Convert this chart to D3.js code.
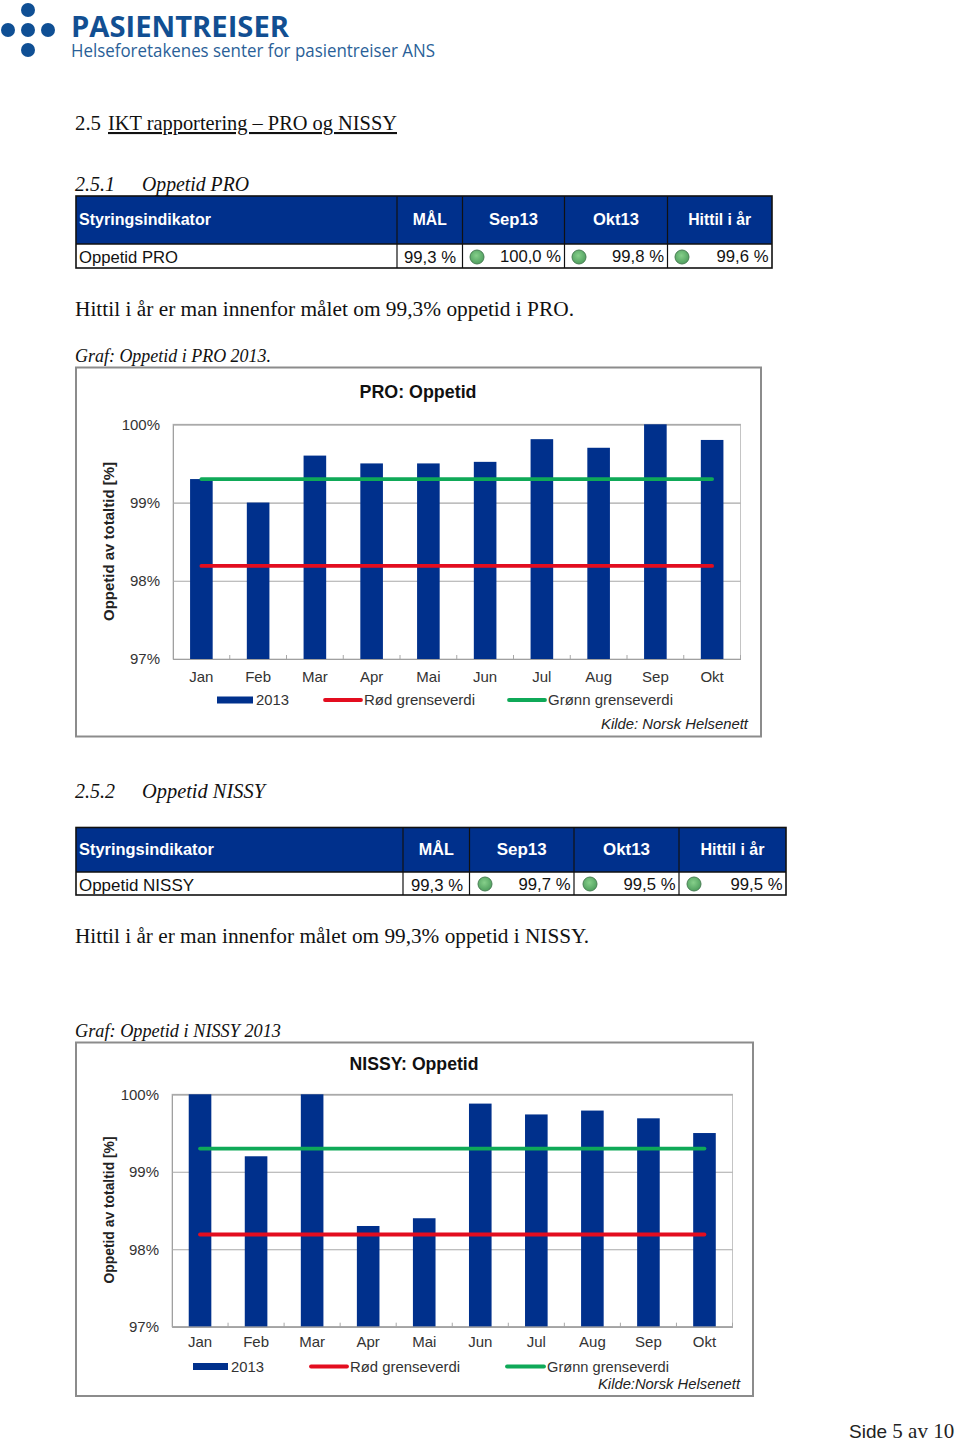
<!DOCTYPE html>
<html><head><meta charset="utf-8">
<script src="https://cdn.jsdelivr.net/npm/d3@7"></script>
<style>
html,body{margin:0;padding:0;background:#fff}
svg{display:block}
</style></head><body>
<div id="page"></div>
<script>
const months = ["Jan","Feb","Mar","Apr","Mai","Jun","Jul","Aug","Sep","Okt"];
const proValues = [99.3,99.0,99.6,99.5,99.5,99.52,99.81,99.7,100,99.8];
const nissyValues = [100,99.2,100,98.3,98.4,99.88,99.74,99.79,99.69,99.5];
const redLimit = [98.19,98.19,98.19,98.19,98.19,98.19,98.19,98.19,98.19,98.19];
const greenLimit = [99.3,99.3,99.3,99.3,99.3,99.3,99.3,99.3,99.3,99.3];
const yTicks = [97,98,99,100];
const tableHeaders = ["Styringsindikator","MÅL","Sep13","Okt13","Hittil i år"];
const proRow = ["Oppetid PRO","99,3 %","100,0 %","99,8 %","99,6 %"];
const nissyRow = ["Oppetid NISSY","99,3 %","99,7 %","99,5 %","99,5 %"];
const legendLabels = ["2013","Rød grenseverdi","Grønn grenseverdi"];

const BLUE="#00308c", RED="#e30d1f", GREEN="#0fa958", SANS="'Liberation Sans',Arial,sans-serif", SERIF="'Liberation Serif',serif";
const svg=d3.select("#page").append("svg").attr("width",960).attr("height",1442).attr("viewBox","0 0 960 1442");
const defs=svg.append("defs");
const grad=defs.append("radialGradient").attr("id","lamp").attr("cx","45%").attr("cy","40%").attr("r","60%");
grad.append("stop").attr("offset","0%").attr("stop-color","#86cf8a");
grad.append("stop").attr("offset","100%").attr("stop-color","#4f9f5e");

function text(t,x,y,o={}){
  const e=svg.append("text").attr("x",x).attr("y",y).text(t)
    .attr("font-family",o.family||SANS).attr("font-size",o.size||14).attr("fill",o.fill||"#111");
  if(o.bold)e.attr("font-weight","bold");
  if(o.italic)e.attr("font-style","italic");
  if(o.anchor)e.attr("text-anchor",o.anchor);
  if(o.len)e.attr("textLength",o.len).attr("lengthAdjust","spacingAndGlyphs");
  if(o.underline)e.attr("text-decoration","underline");
  return e;
}

// logo
const logoDots=[[28,10],[8,30],[28,30],[48,30],[28,50]];
svg.append("g").selectAll("circle").data(logoDots).join("circle")
  .attr("cx",d=>d[0]).attr("cy",d=>d[1]).attr("r",7).attr("fill","#0f4f94");
text("PASIENTREISER",71,37,{family:"'Open Sans',sans-serif",bold:true,size:29,fill:"#124f92",len:218});
text("Helseforetakenes senter for pasientreiser ANS",71,57,{family:"'Open Sans',sans-serif",size:17.5,fill:"#2a5f98",len:364});

// headings
text("2.5",75,130,{family:SERIF,size:21,len:26});
text("IKT rapportering – PRO og NISSY",108,130,{family:SERIF,size:21,len:289,underline:true});
text("2.5.1",75,191,{family:SERIF,size:21,italic:true,len:40});
text("Oppetid PRO",142,191,{family:SERIF,size:21,italic:true,len:107});
text("Hittil i år er man innenfor målet om 99,3% oppetid i PRO.",75,316,{family:SERIF,size:20.5,len:499});
text("Graf: Oppetid i PRO 2013.",75,362,{family:SERIF,size:18.5,italic:true,len:196});
text("2.5.2",75,798,{family:SERIF,size:21,italic:true,len:40});
text("Oppetid NISSY",142,798,{family:SERIF,size:21,italic:true,len:123});
text("Hittil i år er man innenfor målet om 99,3% oppetid i NISSY.",75,943,{family:SERIF,size:20.5,len:514});
text("Graf: Oppetid i NISSY 2013",75,1037,{family:SERIF,size:18.5,italic:true,len:206});
const side=text("Side ",849,1437.5,{family:SANS,size:19,fill:"#222"});
side.append("tspan").attr("font-family",SERIF).attr("font-size",21).text("5 av 10");

function table(cfg){
  const {xs,y0,y1,y2,row,lamps,hw,rowLens}=cfg;
  svg.append("rect").attr("x",xs[0]).attr("y",y0).attr("width",xs[5]-xs[0]).attr("height",y1-y0).attr("fill",BLUE);
  svg.append("rect").attr("x",xs[0]).attr("y",y0).attr("width",xs[5]-xs[0]).attr("height",y2-y0)
    .attr("fill","none").attr("stroke","#111").attr("stroke-width",1.6);
  svg.append("line").attr("x1",xs[0]).attr("x2",xs[5]).attr("y1",y1).attr("y2",y1).attr("stroke","#111").attr("stroke-width",1.6);
  for(let i=1;i<5;i++) svg.append("line").attr("x1",xs[i]).attr("x2",xs[i]).attr("y1",y0).attr("y2",y2).attr("stroke","#111").attr("stroke-width",1.2);
  tableHeaders.forEach((h,i)=>{
    const cx=i===0?xs[0]+3:(xs[i]+xs[i+1])/2;
    text(h,cx,(y0+y1)/2+5,{bold:true,size:16,fill:"#fff",anchor:i===0?"start":"middle",len:hw[i]});
  });
  row.forEach((v,i)=>{
    const x=i===0?xs[0]+3:xs[i+1]-(i===1?6.5:3.5);
    text(v,x,cfg.base+(i<2?cfg.shift:0),{size:16.5,fill:"#111",anchor:i===0?"start":"end",len:rowLens[i]});
  });
  lamps.forEach(x=>{
    svg.append("circle").attr("cx",x).attr("cy",cfg.lampY).attr("r",7).attr("fill","url(#lamp)").attr("stroke","#4a7f55").attr("stroke-width",1);
  });
}
table({xs:[76,397,462.5,564.5,667.5,772],y0:196,y1:244,y2:268,row:proRow,lamps:[477,579,682],lampY:257,base:262,shift:1,
  hw:[132,34,49,46,63],rowLens:[99,52,61,52,52]});
table({xs:[76,403,469.5,574,679,786],y0:827.5,y1:872,y2:895,row:nissyRow,lamps:[485,590,694],lampY:884,base:890,shift:1,
  hw:[135,35,50,47,64],rowLens:[115,52,52,52,52]});

function chart(c){
  const g=svg.append("g");
  g.append("rect").attr("x",c.frame[0]).attr("y",c.frame[1]).attr("width",c.frame[2]-c.frame[0]).attr("height",c.frame[3]-c.frame[1])
    .attr("fill","#fff").attr("stroke","#8c8c8c").attr("stroke-width",2);
  const band=d3.scaleBand().domain(months).range([c.left,c.right]);
  const y=d3.scaleLinear().domain([97,100]).range([c.bottom,c.top]);
  g.append("rect").attr("x",c.left).attr("y",c.top).attr("width",c.right-c.left).attr("height",c.bottom-c.top)
    .attr("fill","none").attr("stroke","#c4c4c4").attr("stroke-width",1);
  const yAxis=d3.axisLeft(y).tickValues(yTicks).tickSize(c.left-c.right).tickPadding(13).tickFormat(d=>d+"%");
  const ya=g.append("g").attr("transform",`translate(${c.left},0)`).call(yAxis);
  ya.select(".domain").attr("stroke","#a0a0a0");
  ya.selectAll(".tick line").attr("stroke","#a8a8a8").attr("stroke-width",1.2);
  ya.selectAll("text").attr("font-family",SANS).attr("font-size",15).attr("fill","#333");
  const bnd=d3.scaleLinear().domain([0,10]).range([c.left,c.right]);
  g.append("g").selectAll("line").data(months).join("line")
    .attr("x1",(d,i)=>bnd(i+1)).attr("x2",(d,i)=>bnd(i+1)).attr("y1",c.bottom).attr("y2",c.bottom-4)
    .attr("stroke","#a8a8a8");
  g.append("g").selectAll("rect").data(c.values).join("rect")
    .attr("x",(d,i)=>band(months[i])+band.bandwidth()/2-11.3).attr("width",22.6)
    .attr("y",d=>y(d)).attr("height",d=>c.bottom-y(d)).attr("fill",BLUE);
  const xa=g.append("g").attr("transform",`translate(0,${c.bottom})`)
    .call(d3.axisBottom(band).tickSize(0).tickPadding(c.xpad));
  xa.select(".domain").attr("stroke","#a0a0a0").attr("stroke-width",1.2);
  xa.selectAll("text").attr("font-family",SANS).attr("font-size",15).attr("fill","#333");
  const ln=s=>d3.line().x((d,i)=>band(months[i])+band.bandwidth()/2).y(d=>y(d))(s);
  [[redLimit,RED],[greenLimit,GREEN]].forEach(([s,col])=>
    g.append("path").attr("d",ln(s)).attr("fill","none").attr("stroke",col).attr("stroke-width",3.8).attr("stroke-linecap","round"));
  text(c.title,c.titleX,c.titleY,{bold:true,size:18,fill:"#111",anchor:"middle",len:c.titleLen});
  text("Oppetid av totaltid [%]",0,0,{bold:true,size:14.5,fill:"#222",anchor:"middle",len:c.yLen})
    .attr("transform",`translate(${c.yLabelX},${c.yLabelY}) rotate(-90)`);
  const L=c.legend;
  svg.append("rect").attr("x",L[0]).attr("y",c.legY-3.5).attr("width",L[1]-L[0]).attr("height",7).attr("fill",BLUE);
  text(legendLabels[0],L[1]+3,c.legY+5,{size:15,fill:"#333",len:c.legLens[0]});
  svg.append("line").attr("x1",L[2]).attr("x2",L[3]).attr("y1",c.legY).attr("y2",c.legY).attr("stroke",RED).attr("stroke-width",3.8).attr("stroke-linecap","round");
  text(legendLabels[1],L[3]+3,c.legY+5,{size:15,fill:"#333",len:c.legLens[1]});
  svg.append("line").attr("x1",L[4]).attr("x2",L[5]).attr("y1",c.legY).attr("y2",c.legY).attr("stroke",GREEN).attr("stroke-width",3.8).attr("stroke-linecap","round");
  text(legendLabels[2],L[5]+3,c.legY+5,{size:15,fill:"#333",len:c.legLens[2]});
  text(c.source,c.srcX,c.srcY,{size:14.5,italic:true,fill:"#222",anchor:"end",len:c.srcLen});
}
chart({frame:[76,367.5,761,736.5],left:173,right:740.5,top:424.3,bottom:659,values:proValues,xpad:12.5,
  title:"PRO: Oppetid",titleX:418,titleY:398,titleLen:117,yLabelX:113.5,yLabelY:541.5,yLen:159,
  legend:[217,253,325,361,509,545],legY:700,legLens:[33,111,125],source:"Kilde: Norsk Helsenett",srcX:748,srcY:729,srcLen:147});
chart({frame:[76,1042.5,753,1396],left:172,right:732.5,top:1094.3,bottom:1326.7,values:nissyValues,xpad:10,
  title:"NISSY: Oppetid",titleX:414,titleY:1070,titleLen:129,yLabelX:113.5,yLabelY:1210,yLen:147,
  legend:[193,228,311,347,507,544],legY:1366.5,legLens:[33,110,122],source:"Kilde:Norsk Helsenett",srcX:740,srcY:1389,srcLen:142});
</script>
</body></html>
